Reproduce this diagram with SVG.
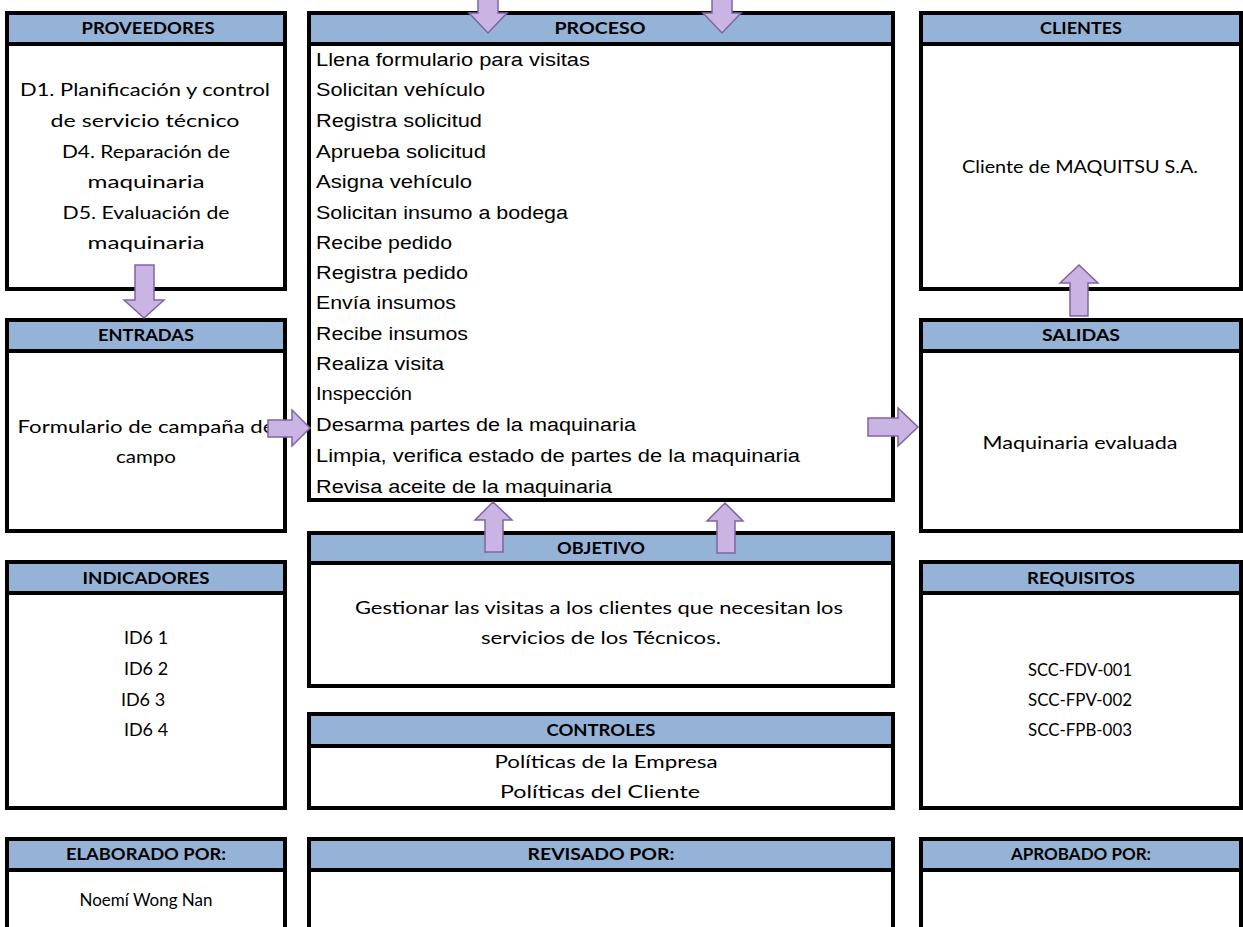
<svg xmlns="http://www.w3.org/2000/svg" width="1243" height="927" viewBox="0 0 1243 927">
<defs>
<style>
.box{fill:#ffffff;stroke:#000000;stroke-width:4}
.hdr{fill:#95b3d7;stroke:#000000;stroke-width:4}
.ht{font-family:Lato,"Open Sans",sans-serif;font-weight:bold;font-size:17px;fill:#000;text-anchor:middle}
.bt{font-family:Lato,"Open Sans",sans-serif;font-size:18px;fill:#000;text-anchor:middle}
.pt{font-family:"Liberation Sans",Arial,sans-serif;font-size:18px;fill:#000}
.arr{fill:#c9b4e4;stroke:#8064a2;stroke-width:1.5;stroke-linejoin:miter}
</style>
</defs>
<rect width="1243" height="927" fill="#ffffff"/>

<g id="proveedores">
<rect class="box" x="7" y="13" width="278" height="276"/>
<rect class="hdr" x="7" y="13" width="278" height="31"/>
<text class="ht" x="148" y="34" textLength="133" lengthAdjust="spacingAndGlyphs">PROVEEDORES</text>
<text class="bt" x="145" y="96" textLength="250" lengthAdjust="spacingAndGlyphs">D1. Planificación y control</text>
<text class="bt" x="145" y="127" textLength="189" lengthAdjust="spacingAndGlyphs">de servicio técnico</text>
<text class="bt" x="146" y="158" textLength="168" lengthAdjust="spacingAndGlyphs">D4. Reparación de</text>
<text class="bt" x="146" y="188" textLength="117" lengthAdjust="spacingAndGlyphs">maquinaria</text>
<text class="bt" x="146" y="219" textLength="167" lengthAdjust="spacingAndGlyphs">D5. Evaluación de</text>
<text class="bt" x="146" y="249" textLength="117" lengthAdjust="spacingAndGlyphs">maquinaria</text>
</g>

<g id="proceso">
<rect class="box" x="309" y="13" width="584" height="487"/>
<rect class="hdr" x="309" y="13" width="584" height="31"/>
<text class="ht" x="600" y="34" textLength="91" lengthAdjust="spacingAndGlyphs">PROCESO</text>
<text class="pt" x="316" y="66" textLength="274" lengthAdjust="spacingAndGlyphs">Llena formulario para visitas</text>
<text class="pt" x="316" y="96" textLength="169" lengthAdjust="spacingAndGlyphs">Solicitan vehículo</text>
<text class="pt" x="316" y="127" textLength="166" lengthAdjust="spacingAndGlyphs">Registra solicitud</text>
<text class="pt" x="316" y="158" textLength="170" lengthAdjust="spacingAndGlyphs">Aprueba solicitud</text>
<text class="pt" x="316" y="188" textLength="156" lengthAdjust="spacingAndGlyphs">Asigna vehículo</text>
<text class="pt" x="316" y="219" textLength="252" lengthAdjust="spacingAndGlyphs">Solicitan insumo a bodega</text>
<text class="pt" x="316" y="249" textLength="136" lengthAdjust="spacingAndGlyphs">Recibe pedido</text>
<text class="pt" x="316" y="279" textLength="152" lengthAdjust="spacingAndGlyphs">Registra pedido</text>
<text class="pt" x="316" y="309" textLength="140" lengthAdjust="spacingAndGlyphs">Envía insumos</text>
<text class="pt" x="316" y="340" textLength="152" lengthAdjust="spacingAndGlyphs">Recibe insumos</text>
<text class="pt" x="316" y="370" textLength="128" lengthAdjust="spacingAndGlyphs">Realiza visita</text>
<text class="pt" x="316" y="400" textLength="96" lengthAdjust="spacingAndGlyphs">Inspección</text>
<text class="pt" x="316" y="431" textLength="320" lengthAdjust="spacingAndGlyphs">Desarma partes de la maquinaria</text>
<text class="pt" x="316" y="462" textLength="484" lengthAdjust="spacingAndGlyphs">Limpia, verifica estado de partes de la maquinaria</text>
<text class="pt" x="316" y="493" textLength="296" lengthAdjust="spacingAndGlyphs">Revisa aceite de la maquinaria</text>
</g>

<g id="clientes">
<rect class="box" x="921" y="13" width="320" height="276"/>
<rect class="hdr" x="921" y="13" width="320" height="31"/>
<text class="ht" x="1081" y="34" textLength="82" lengthAdjust="spacingAndGlyphs">CLIENTES</text>
<text class="bt" x="1080" y="173" textLength="236" lengthAdjust="spacingAndGlyphs">Cliente de MAQUITSU S.A.</text>
</g>

<g id="entradas">
<rect class="box" x="7" y="320" width="278" height="211"/>
<rect class="hdr" x="7" y="320" width="278" height="31"/>
<text class="ht" x="146" y="341" textLength="96" lengthAdjust="spacingAndGlyphs">ENTRADAS</text>
<text class="bt" x="146" y="433" textLength="257" lengthAdjust="spacingAndGlyphs">Formulario de campaña de</text>
<text class="bt" x="146" y="463" textLength="60" lengthAdjust="spacingAndGlyphs">campo</text>
</g>

<g id="salidas">
<rect class="box" x="921" y="320" width="320" height="211"/>
<rect class="hdr" x="921" y="320" width="320" height="31"/>
<text class="ht" x="1081" y="341" textLength="78" lengthAdjust="spacingAndGlyphs">SALIDAS</text>
<text class="bt" x="1080" y="449" textLength="195" lengthAdjust="spacingAndGlyphs">Maquinaria evaluada</text>
</g>

<g id="objetivo">
<rect class="box" x="309" y="533" width="584" height="153"/>
<rect class="hdr" x="309" y="533" width="584" height="30"/>
<text class="ht" x="601" y="554" textLength="88" lengthAdjust="spacingAndGlyphs">OBJETIVO</text>
<text class="bt" x="599" y="614" textLength="488" lengthAdjust="spacingAndGlyphs">Gestionar las visitas a los clientes que necesitan los</text>
<text class="bt" x="601" y="644" textLength="240" lengthAdjust="spacingAndGlyphs">servicios de los Técnicos.</text>
</g>

<g id="indicadores">
<rect class="box" x="7" y="562" width="278" height="246"/>
<rect class="hdr" x="7" y="562" width="278" height="31"/>
<text class="ht" x="146" y="584" textLength="127" lengthAdjust="spacingAndGlyphs">INDICADORES</text>
<text class="bt" x="146" y="644">ID6 1</text>
<text class="bt" x="146" y="675">ID6 2</text>
<text class="bt" x="143" y="706">ID6 3</text>
<text class="bt" x="146" y="736">ID6 4</text>
</g>

<g id="requisitos">
<rect class="box" x="921" y="562" width="320" height="246"/>
<rect class="hdr" x="921" y="562" width="320" height="31"/>
<text class="ht" x="1081" y="584" textLength="108" lengthAdjust="spacingAndGlyphs">REQUISITOS</text>
<text class="bt" x="1080" y="676" textLength="104" lengthAdjust="spacingAndGlyphs">SCC-FDV-001</text>
<text class="bt" x="1080" y="706" textLength="104" lengthAdjust="spacingAndGlyphs">SCC-FPV-002</text>
<text class="bt" x="1080" y="736" textLength="104" lengthAdjust="spacingAndGlyphs">SCC-FPB-003</text>
</g>

<g id="controles">
<rect class="box" x="309" y="714" width="584" height="94"/>
<rect class="hdr" x="309" y="714" width="584" height="32"/>
<text class="ht" x="601" y="736" textLength="109" lengthAdjust="spacingAndGlyphs">CONTROLES</text>
<text class="bt" x="606" y="768" textLength="223" lengthAdjust="spacingAndGlyphs">Políticas de la Empresa</text>
<text class="bt" x="600" y="798" textLength="200" lengthAdjust="spacingAndGlyphs">Políticas del Cliente</text>
</g>

<g id="elaborado">
<rect class="box" x="7" y="839" width="278" height="100"/>
<rect class="hdr" x="7" y="839" width="278" height="31"/>
<text class="ht" x="146" y="860" textLength="160" lengthAdjust="spacingAndGlyphs">ELABORADO POR:</text>
<text class="bt" x="146" y="906" textLength="133" lengthAdjust="spacingAndGlyphs">Noemí Wong Nan</text>
</g>

<g id="revisado">
<rect class="box" x="309" y="839" width="584" height="100"/>
<rect class="hdr" x="309" y="839" width="584" height="31"/>
<text class="ht" x="601" y="860" textLength="147" lengthAdjust="spacingAndGlyphs">REVISADO POR:</text>
</g>

<g id="aprobado">
<rect class="box" x="921" y="839" width="320" height="100"/>
<rect class="hdr" x="921" y="839" width="320" height="31"/>
<text class="ht" x="1081" y="860" textLength="140" lengthAdjust="spacingAndGlyphs">APROBADO POR:</text>
</g>

<g id="connectors">
<polygon class="arr" points="478,-2 498,-2 498,13 507,13 488,33 469,13 478,13"/>
<polygon class="arr" points="712,-2 732,-2 732,13 741,13 722,33 703,13 712,13"/>
<polygon class="arr" points="135,265 154,265 154,300 164,300 144,318 124,300 135,300"/>
<polygon class="arr" points="268,420 292,420 292,410 310,428 292,446 292,437 268,437"/>
<polygon class="arr" points="868,418 898,418 898,408 918,427 898,446 898,436 868,436"/>
<polygon class="arr" points="1070,316 1070,283 1060,283 1079,265 1098,283 1088,283 1088,316"/>
<polygon class="arr" points="485,552 485,520 475,520 493,502 512,520 503,520 503,552"/>
<polygon class="arr" points="717,553 717,521 707,521 725,503 743,521 735,521 735,553"/>
</g>
</svg>
